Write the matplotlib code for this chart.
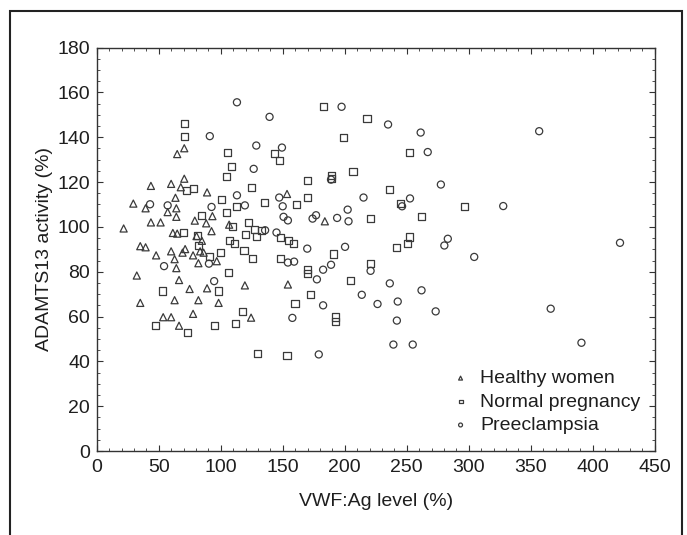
import matplotlib
matplotlib.use("Agg")
import matplotlib.pyplot as plt
from matplotlib.patches import Rectangle
from matplotlib.ticker import MultipleLocator

plt.rcParams['font.family'] = ['Liberation Sans', 'DejaVu Sans']

healthy_x = [21.6, 29.4, 32.2, 35, 35, 39.3, 39.3, 43.6, 43.6, 47.8, 51.4, 53.5, 57.1, 59.9, 59.9, 59.9,
             61.3, 62.7, 62.7, 63.4, 64.1, 64.1, 64.1, 64.8, 64.8, 66.3, 66.3, 67.7, 69.1, 70.5, 70.5, 71.2,
             74.8, 77.6, 77.6, 79, 80.4, 81.9, 81.9, 83.3, 84.7, 86.1, 88.2, 88.9, 88.9, 92.5, 93.2, 96.7,
             98.2, 106.7, 119.4, 124.4, 153.4, 154.1, 183.9]
healthy_y = [99.3, 110.4, 78.3, 66.1, 91.4, 90.9, 108.3, 118.3, 102, 87.3, 102, 59.7, 106.6, 119.2, 89.1, 59.7,
             97.3, 85.6, 67.3, 113, 108.3, 104.5, 81.6, 132.5, 97, 55.9, 76.3, 117.7, 88.5, 135.1, 121.5, 90.1,
             72.3, 87.3, 61.2, 102.8, 95.9, 83.8, 67.3, 89.1, 93.8, 88.5, 101.6, 72.6, 115.4, 98.1, 104.8, 84.7,
             66.1, 101, 73.9, 59.5, 114.7, 74.3, 102.5]

normal_x = [47.5, 53.2, 70.5, 70.5, 69.8, 72.6, 73.4, 77.6, 81.1, 81.9, 84.7, 91.1, 94.6, 98.2, 99.6, 100.3,
            104.5, 104.5, 105.2, 105.9, 106.7, 108.8, 109.5, 110.9, 111.6, 112.3, 117.3, 118.7, 120.1, 122.2,
            125, 125.8, 127.2, 128.6, 129.3, 132.9, 135, 143.6, 147.1, 148.5, 148.5, 153.4, 154.9, 158.4,
            159.8, 161.2, 169.7, 169.7, 169.7, 169.7, 172.6, 182.5, 189.6, 189.6, 191, 192.4, 192.4, 198.8,
            204.5, 206.6, 217.9, 220.8, 220.8, 236.3, 242, 244.9, 250.5, 252, 252, 261.9, 296.6]
normal_y = [55.9, 71.4, 146, 140.2, 97.3, 116.2, 52.8, 117.1, 96.2, 91.8, 105.2, 86.6, 55.9, 71.4, 88.5, 112.1,
            106.4, 122.4, 133.1, 79.5, 94.1, 127, 100, 92.7, 56.8, 109.3, 62.3, 89.6, 96.5, 101.9,
            117.4, 85.7, 98.8, 95.9, 43.4, 98.4, 110.7, 132.6, 129.7, 95.2, 85.7, 42.6, 94, 92.7,
            65.8, 109.9, 120.8, 113, 80.9, 79.2, 69.9, 153.6, 123, 121.5, 87.9, 59.8, 57.7, 139.9,
            76, 124.7, 148.2, 103.9, 83.8, 116.5, 90.8, 110.6, 92.6, 133.1, 95.5, 104.6, 108.9]

pre_x = [42.9, 54.2, 57.1, 91.1, 92.5, 90.4, 94.6, 113, 113, 119.4, 126.5, 128.6, 135.7, 139.3, 144.9, 147.1,
         149.3, 149.9, 150.6, 154.1, 154.1, 159.1, 157.7, 169.7, 174, 176.8, 177.5, 179, 182.5, 182.5, 188.9,
         188.9, 193.8, 197.4, 200.2, 202.3, 203, 213.7, 215.1, 220.8, 226.4, 234.9, 236.3, 239.2, 242, 242.7,
         246.2, 252.6, 254.8, 261.2, 261.9, 266.9, 273.3, 277.5, 280.3, 283.1, 304.4, 327.8, 356.8, 366.1,
         390.9, 422]
pre_y = [110.1, 82.5, 109.6, 140.5, 108.9, 83.6, 75.8, 155.6, 114.1, 109.6, 125.9, 136.3, 98.5, 149.1, 97.5, 113.1,
         135.4, 109.2, 104.5, 102.9, 84.1, 84.5, 59.4, 90.3, 103.7, 105.2, 76.6, 43.1, 80.9, 65, 83.1,
         121.1, 104, 153.6, 91.1, 107.7, 102.5, 69.7, 113.1, 80.4, 65.6, 145.7, 74.8, 47.5, 58.2, 66.7,
         109.2, 112.7, 47.5, 142.1, 71.7, 133.4, 62.3, 118.9, 91.7, 94.7, 86.6, 109.3, 142.7, 63.5,
         48.3, 92.9]

series_labels = ["Healthy women", "Normal pregnancy", "Preeclampsia"]
x_ticks = [0, 50, 100, 150, 200, 250, 300, 350, 400, 450]
y_ticks = [0, 20, 40, 60, 80, 100, 120, 140, 160, 180]

ec = "#3a3a3a"
txt = "#1e1e1e"
fig = plt.figure(figsize=(6.87, 5.35), dpi=100)
fig.patches.append(Rectangle((10 / 687, -0.05), 672 / 687, 1.05 - 11 / 535, transform=fig.transFigure,
                             fill=False, edgecolor="#222222", linewidth=1.5))
ax = fig.add_axes([0.141, 0.157, 0.812, 0.754])

kw = dict(facecolor="none", edgecolors=ec, linewidths=0.9)
ax.scatter(healthy_x, healthy_y, marker="^", s=26, label=series_labels[0], **kw)
ax.scatter(normal_x, normal_y, marker="s", s=26, label=series_labels[1], **kw)
ax.scatter(pre_x, pre_y, marker="o", s=26, label=series_labels[2], **kw)

ax.set_xlim(0, 450)
ax.set_ylim(0, 180)
ax.set_xticks(x_ticks)
ax.set_yticks(y_ticks)
ax.xaxis.set_minor_locator(MultipleLocator(10))
ax.yaxis.set_minor_locator(MultipleLocator(5))
ax.tick_params(which="both", direction="in", top=True, right=True, colors="#333333", labelcolor=txt)
ax.tick_params(which="major", length=4, labelsize=14)
ax.tick_params(axis="x", which="major", pad=6)
ax.tick_params(axis="y", which="major", pad=5)
ax.tick_params(which="minor", length=2)
for s in ax.spines.values():
    s.set_color("#333333")
    s.set_linewidth(1.0)

ax.set_xlabel("VWF:Ag level (%)", fontsize=14, color=txt, labelpad=12)
ax.set_ylabel("ADAMTS13 activity (%)", fontsize=14, color=txt, labelpad=3)

leg = ax.legend(loc="lower right", bbox_to_anchor=(0.995, 0.013), frameon=False, fontsize=14,
                markerscale=0.55, handlelength=1.2, handletextpad=0.4, labelspacing=0.3, borderaxespad=0.2)
for t in leg.get_texts():
    t.set_color(txt)

fig.savefig("out.png", dpi=100)
